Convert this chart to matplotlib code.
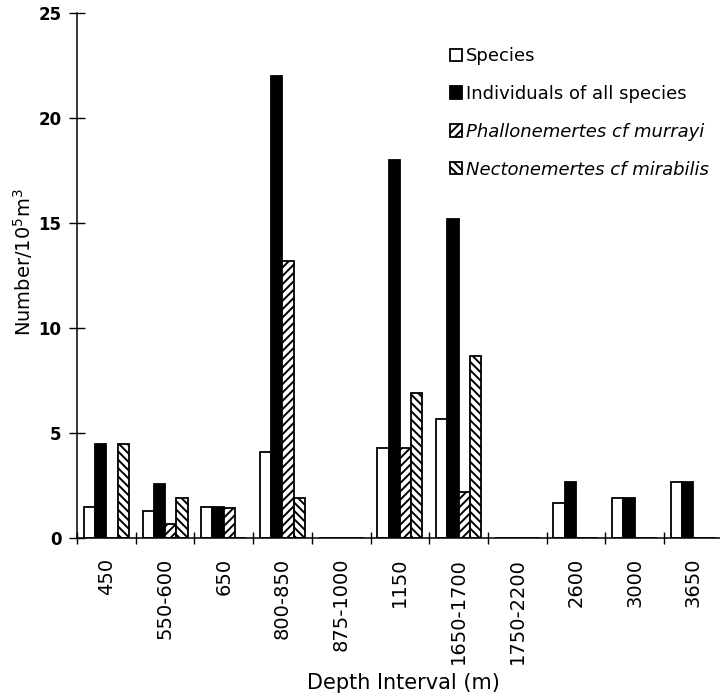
import matplotlib
matplotlib.use("Agg")
import matplotlib.pyplot as plt
from matplotlib.patches import Patch
import numpy as np

plt.rcParams['font.family'] = ['DejaVu Sans']
plt.rcParams['mathtext.default'] = 'regular'
plt.rcParams['hatch.linewidth'] = 1.4

categories = ['450', '550-600', '650', '800-850', '875-1000', '1150',
              '1650-1700', '1750-2200', '2600', '3000', '3650']
species = [1.5, 1.3, 1.5, 4.1, 0, 4.3, 5.7, 0, 1.7, 1.9, 2.7]
individuals = [4.5, 2.6, 1.5, 22.0, 0, 18.0, 15.2, 0, 2.7, 1.9, 2.7]
phallonemertes = [0, 0.7, 1.45, 13.2, 0, 4.3, 2.2, 0, 0, 0, 0]
nectonemertes = [4.5, 1.9, 0, 1.9, 0, 6.9, 8.7, 0, 0, 0, 0]
yticks = [0, 5, 10, 15, 20, 25]

fig = plt.figure(figsize=(7.2, 6.99), dpi=100)
ax = fig.add_axes([77/720, (699-538.3)/699, 643/720, 525/699])

x = np.arange(len(categories))
w = 0.192
series = [
    (species, dict(facecolor='white', edgecolor='black', hatch=None)),
    (individuals, dict(facecolor='black', edgecolor='black', hatch=None)),
    (phallonemertes, dict(facecolor='white', edgecolor='black', hatch='////')),
    (nectonemertes, dict(facecolor='white', edgecolor='black', hatch='\\\\\\\\')),
]
for i, (vals, st) in enumerate(series):
    ax.bar(x + (i - 1.5) * w, vals, width=w, linewidth=1.3, zorder=2, **st)

ax.set_xlim(-0.5, -0.5 + 643/58.7)
ax.set_ylim(0, 25)
ax.spines['top'].set_visible(False)
ax.spines['right'].set_visible(False)
ax.spines['left'].set_linewidth(1.1)
ax.spines['bottom'].set_linewidth(1.1)

ax.set_yticks(yticks)
ax.set_yticklabels([str(v) for v in yticks], fontsize=12, fontweight='bold')
ax.tick_params(axis='y', direction='inout', length=11.5, width=1, pad=5.5)

ax.set_xticks(x)
ax.set_xticklabels(categories, rotation=90, fontsize=14)
ax.tick_params(axis='x', which='major', length=0, pad=14)
ax.set_xticks(np.arange(-0.5, 10.5, 1), minor=True)
ax.tick_params(axis='x', which='minor', direction='inout', length=8.6, width=1)

ax.set_xlabel('Depth Interval (m)', fontsize=15)
ax.xaxis.set_label_coords(0.507, -0.2566)
ax.set_ylabel('Number/10$^5$m$^3$', fontsize=14)
ax.yaxis.set_label_coords(-0.065, 0.526)

handles = [Patch(facecolor='white', edgecolor='black', linewidth=1.3),
           Patch(facecolor='black', edgecolor='black', linewidth=1.3),
           Patch(facecolor='white', edgecolor='black', hatch='////', linewidth=1.3),
           Patch(facecolor='white', edgecolor='black', hatch='\\\\\\\\', linewidth=1.3)]
labels = ['Species', 'Individuals of all species',
          'Phallonemertes cf murrayi', 'Nectonemertes cf mirabilis']
leg = ax.legend(handles, labels, loc='upper left', bbox_to_anchor=(450/720, 1 - 47/699),
                bbox_transform=fig.transFigure, frameon=False, fontsize=13,
                handlelength=0.67, handleheight=0.67, handletextpad=0.2,
                labelspacing=1.1, borderpad=0, borderaxespad=0)
for t in leg.get_texts()[2:]:
    t.set_style('italic')

fig.savefig('out.png', dpi=100)
